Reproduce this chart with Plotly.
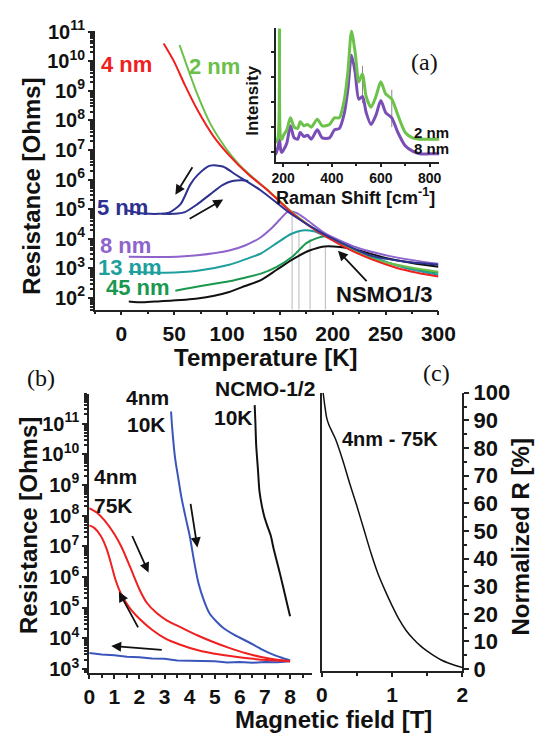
import plotly.graph_objects as go

W, H = 555, 741
def px(x): return x / W
def py(y): return 1 - y / H

# ---------------- Panel (a): R(T), log10 of resistance ----------------
red4_T = [40, 50, 60, 72, 87, 102, 120, 138, 150, 162, 177, 192, 215, 237, 260, 280, 300]
red4_logR = [10.6, 9.98, 9.2, 8.35, 7.47, 6.82, 6.18, 5.65, 5.25, 4.85, 4.45, 4.1, 3.65, 3.3, 3.02, 2.85, 2.72]

grn2_T = [55, 63, 72, 84, 99, 111, 125, 140, 162, 192, 237, 270, 300]
grn2_logR = [10.55, 9.74, 8.87, 7.9, 7.05, 6.52, 6.05, 5.6, 4.88, 4.12, 3.32, 3.05, 2.88]

blu5c_T = [4, 15, 27, 35, 45, 56, 65, 72, 84, 96, 108, 117, 132, 162, 192, 237, 270, 300]
blu5c_logR = [4.97, 4.88, 4.84, 4.84, 4.88, 5.17, 5.82, 6.15, 6.47, 6.44, 6.17, 5.97, 5.63, 4.8, 4.15, 3.42, 3.22, 3.12]
blu5w_T = [38, 50, 60, 72, 84, 96, 105, 114, 120]
blu5w_logR = [4.84, 4.84, 4.9, 5.17, 5.5, 5.82, 5.95, 5.98, 5.95]

pur8_T = [7, 25, 45, 72, 102, 117, 132, 142, 150, 157, 165, 175, 192, 222, 253, 280, 300]
pur8_logR = [3.39, 3.38, 3.38, 3.44, 3.6, 3.77, 4.05, 4.35, 4.65, 4.9, 4.88, 4.65, 4.2, 3.71, 3.42, 3.25, 3.15]

tea13_T = [7, 25, 42, 72, 102, 117, 132, 147, 160, 171, 182, 192, 215, 240, 270, 300]
tea13_logR = [2.88, 2.86, 2.85, 2.92, 3.12, 3.3, 3.5, 3.85, 4.15, 4.28, 4.25, 4.1, 3.72, 3.35, 3.0, 2.78]

grn45_T = [51, 75, 102, 117, 132, 147, 162, 175, 185, 193, 200, 215, 240, 270, 300]
grn45_logR = [2.24, 2.4, 2.56, 2.68, 2.82, 3.05, 3.4, 3.85, 4.02, 4.08, 4.0, 3.7, 3.32, 3.02, 2.85]

nsmo_T = [7, 20, 35, 72, 102, 117, 132, 147, 162, 178, 192, 207, 223, 250, 275, 300]
nsmo_logR = [1.88, 1.85, 1.88, 1.98, 2.2, 2.4, 2.6, 2.95, 3.3, 3.6, 3.74, 3.72, 3.62, 3.35, 3.18, 3.05]

# transition temperatures (gray guide lines) and peak levels
tc_T = [161.5, 168, 178.5, 193]
tc_logR = [4.9, 4.3, 4.0, 3.74]

# ---------------- Inset: Raman spectra (arbitrary units) ----------------
raman_shift = [150, 170, 179, 185, 190, 195, 202, 215, 230, 245, 260, 270, 285, 300, 315, 340, 360,
               390, 410, 430, 450, 465, 480, 495, 510, 525, 540, 560, 580, 600, 620, 645, 670, 700,
               730, 760, 800, 840]
raman_2nm = [0.13, 0.15, 0.18, 1.0, 0.18, 0.17, 0.2, 0.24, 0.33, 0.26, 0.25, 0.3, 0.27, 0.28, 0.26,
             0.32, 0.27, 0.28, 0.33, 0.33, 0.46, 0.67, 0.98, 0.82, 0.6, 0.66, 0.49, 0.41, 0.49, 0.6,
             0.51, 0.47, 0.35, 0.22, 0.18, 0.17, 0.17, 0.17]
raman_8nm = [0.02, 0.06, 0.11, 0.17, 0.09, 0.07, 0.09, 0.14, 0.27, 0.18, 0.17, 0.22, 0.19, 0.2, 0.17,
             0.24, 0.18, 0.18, 0.24, 0.25, 0.36, 0.54, 0.8, 0.67, 0.47, 0.49, 0.37, 0.28, 0.35, 0.46,
             0.37, 0.33, 0.22, 0.12, 0.08, 0.06, 0.06, 0.06]
raman_marks = [525, 645]
raman_marks_lo = [0.44, 0.26]
raman_marks_hi = [0.72, 0.54]

# ---------------- Panel (b): R(B) ----------------
b10_up_B = [3.26, 3.3, 3.42, 3.55, 3.67, 3.85, 4.0, 4.18, 4.35, 4.56, 4.8, 5.32, 5.8, 6.34, 6.85, 7.35, 7.7, 8.0]
b10_up_logR = [11.39, 10.9, 9.87, 9.2, 8.6, 7.9, 7.35, 6.5, 5.8, 5.25, 4.8, 4.35, 4.1, 3.88, 3.65, 3.46, 3.36, 3.28]
b10_dn_B = [8, 7.5, 7, 6.5, 6, 5.5, 5, 4.5, 4, 3.5, 3, 2.5, 2, 1.5, 1, 0.5, 0]
b10_dn_logR = [3.25, 3.22, 3.23, 3.2, 3.23, 3.21, 3.25, 3.26, 3.29, 3.28, 3.33, 3.34, 3.38, 3.4, 3.45, 3.47, 3.52]

r75_up_B = [0, 0.3, 0.6, 1.0, 1.3, 1.64, 2.02, 2.3, 2.65, 3.1, 3.67, 4.3, 4.94, 5.6, 6.21, 6.9, 7.48, 8.0]
r75_up_logR = [8.24, 8.1, 7.85, 7.4, 6.95, 6.3, 5.56, 5.15, 4.85, 4.58, 4.35, 4.1, 3.88, 3.68, 3.52, 3.38, 3.3, 3.25]
r75_dn_B = [0, 0.2, 0.45, 0.7, 0.88, 1.05, 1.26, 1.6, 2.02, 2.5, 3.04, 3.6, 4.3, 5.2, 6.21, 7.1, 8.0]
r75_dn_logR = [7.68, 7.6, 7.35, 6.9, 6.4, 5.9, 5.46, 5.0, 4.62, 4.28, 3.99, 3.8, 3.62, 3.47, 3.36, 3.29, 3.25]

ncmo_B = [6.59, 6.62, 6.65, 6.72, 6.78, 6.88, 6.97, 7.1, 7.23, 7.35, 7.6, 7.86, 8.0]
ncmo_logR = [11.6, 11.0, 10.3, 9.5, 8.8, 8.3, 7.98, 7.65, 7.35, 6.9, 6.1, 5.2, 4.72]

# ---------------- Panel (c): normalized R ----------------
c_B = [0.02, 0.04, 0.07, 0.1, 0.2, 0.3, 0.4, 0.5, 0.6, 0.7, 0.8, 0.9, 1.0, 1.1, 1.2, 1.3, 1.4, 1.5,
       1.6, 1.7, 1.8, 1.9, 2.0]
c_R = [100, 96, 91, 88.5, 83, 75.5, 67, 59, 50.5, 42, 34.5, 28.5, 23, 18, 14, 11, 8.5, 6.5, 4.8, 3.3,
       2.2, 1.3, 0.6]

FONT = "Liberation Sans"
AX = "#222222"

fig = go.Figure()

def line(xa, ya, x, y, color, width=2.0, shape="spline", log=False, smoothing=0.7):
    yy = [10 ** v for v in y] if log else y
    fig.add_trace(go.Scatter(x=x, y=yy, mode="lines", xaxis=xa, yaxis=ya,
                             line=dict(color=color, width=width, shape=shape, smoothing=smoothing),
                             showlegend=False, hoverinfo="skip"))

# (a) guide lines
for t, lr in zip(tc_T, tc_logR):
    line("x", "y", [t, t], [1.6, lr], "#b8b8b8", 1.0, "linear", log=True)
line("x", "y", nsmo_T, nsmo_logR, "#111111", 2.0, log=True)
line("x", "y", grn45_T, grn45_logR, "#1a9850", 2.0, log=True)
line("x", "y", tea13_T, tea13_logR, "#1f9e9e", 2.0, log=True)
line("x", "y", pur8_T, pur8_logR, "#8e63cc", 2.0, log=True)
line("x", "y", grn2_T, grn2_logR, "#6cc04a", 2.0, log=True)
line("x", "y", red4_T, red4_logR, "#f0201f", 2.0, log=True)
line("x", "y", blu5c_T, blu5c_logR, "#2d3190", 2.0, log=True)
line("x", "y", blu5w_T, blu5w_logR, "#2d3190", 2.0, log=True)

# inset
for m, lo, hi in zip(raman_marks, raman_marks_lo, raman_marks_hi):
    line("x2", "y2", [m, m], [lo, hi], "#888888", 1.0, "linear")
line("x2", "y2", raman_shift, raman_8nm, "#7a4fb5", 3.0)
line("x2", "y2", raman_shift, raman_2nm, "#6cc24a", 3.0)

# (b)
line("x3", "y3", b10_dn_B, b10_dn_logR, "#3b56bb", 2.0, "linear", log=True)
line("x3", "y3", b10_up_B, b10_up_logR, "#3b56bb", 2.0, log=True)
line("x3", "y3", r75_up_B, r75_up_logR, "#f02020", 2.0, log=True)
line("x3", "y3", r75_dn_B, r75_dn_logR, "#f02020", 2.0, log=True)
line("x3", "y3", ncmo_B, ncmo_logR, "#111111", 2.0, log=True)

# (c)
line("x4", "y4", c_B, c_R, "#111111", 1.5)
fig.add_trace(go.Scatter(x=[], y=[], xaxis="x4", yaxis="y5", showlegend=False))

common = dict(showline=True, linecolor=AX, linewidth=1.5, ticks="outside", tickcolor=AX,
              tickwidth=1.5, ticklen=5, showgrid=False, zeroline=False)
nolen = {k: v for k, v in common.items() if k != "ticklen"}

fig.update_layout(
    width=W, height=H, margin=dict(l=0, r=0, t=0, b=0),
    paper_bgcolor="white", plot_bgcolor="rgba(0,0,0,0)",
    font=dict(family=FONT, color="#111111", size=20, weight="bold"),
    xaxis=dict(domain=[px(93), px(452)], range=[-25, 300], anchor="y", tick0=0, dtick=50,
               tickfont=dict(size=21), ticklen=4,
               minor=dict(ticks="outside", ticklen=3, dtick=25, tickcolor=AX), **nolen),
    yaxis=dict(domain=[py(306), py(18)], type="log", range=[1.6, 11.01], anchor="x", dtick=1,
               exponentformat="power", tickfont=dict(size=16),
               minor=dict(ticks="outside", ticklen=3, dtick="D1", tickcolor=AX), **common),
    xaxis2=dict(domain=[px(282), px(453)], range=[170, 840], anchor="y2", dtick=200, tick0=0,
                tickfont=dict(size=14), ticklen=3,
                minor=dict(ticks="outside", ticklen=2, dtick=100, tickcolor=AX), **nolen),
    yaxis2=dict(domain=[py(153), py(15)], range=[0, 1], anchor="x2", tick0=0.072, dtick=0.188,
                showticklabels=False, ticklen=3, **nolen),
    xaxis3=dict(domain=[px(87), px(320)], range=[0, 8.88], anchor="y3", dtick=1,
                tickfont=dict(size=21), ticklen=4,
                minor=dict(ticks="outside", ticklen=3, dtick=0.5, tickcolor=AX), **nolen),
    yaxis3=dict(domain=[py(682), py(393)], type="log", range=[2.87, 11.97], anchor="x3", dtick=1,
                exponentformat="power", tickfont=dict(size=16),
                minor=dict(ticks="outside", ticklen=3, dtick="D1", tickcolor=AX), **common),
    xaxis4=dict(domain=[px(330), px(477)], range=[0, 2.0], anchor="y4", dtick=1,
                tickfont=dict(size=21), ticklen=4,
                minor=dict(ticks="outside", ticklen=3, dtick=0.5, tickcolor=AX), **nolen),
    yaxis4=dict(domain=[py(680), py(392)], range=[-0.7, 100], anchor="x4", side="right", dtick=10,
                tickfont=dict(size=22),
                minor=dict(ticks="outside", ticklen=3, dtick=5, tickcolor=AX), **common),
    yaxis5=dict(overlaying="y4", anchor="x4", side="left", range=[-0.7, 100], showline=True,
                linecolor=AX, linewidth=1.5, ticks="", showticklabels=False, showgrid=False,
                zeroline=False),
)

ann = []
def text(x, y, s, size=22, color="#111111", angle=0, family=FONT, weight="bold"):
    ann.append(dict(x=px(x), y=py(y), xref="paper", yref="paper", text=s, showarrow=False,
                    textangle=angle, xanchor="center", yanchor="middle",
                    font=dict(size=size, color=color, family=family, weight=weight)))

def arrow(tx, ty, hx, hy):
    ann.append(dict(x=px(hx), y=py(hy), xref="paper", yref="paper", ax=tx - hx, ay=ty - hy,
                    axref="pixel", ayref="pixel", showarrow=True, arrowhead=2, arrowsize=1.1,
                    arrowwidth=1.8, arrowcolor="#111111", text=""))

# axis titles
text(27, 178, "Resistance [Ohms]", 24, angle=-90)
text(272, 356, "Temperature [K]", 24)
text(23, 530, "Resistance [Ohms]", 24, angle=-90)
text(342, 730, "Magnetic field [T]", 24)
text(538, 541, "Normalized R [%]", 24, angle=-90)
text(258, 90, "Intensity", 17, angle=-90)
text(365, 189, "Raman Shift [cm<sup>-1</sup>]", 18)

# panel letters
text(437, 50, "(a)", 24, family="Liberation Serif", weight="normal")
text(37, 377, "(b)", 24, family="Liberation Serif", weight="normal")
text(450, 372, "(c)", 24, family="Liberation Serif", weight="normal")

# (a) labels
text(126, 52, "4 nm", 22, "#f0201f")
text(218, 54, "2 nm", 22, "#6cc04a")
text(122, 200, "5 nm", 22, "#2d3190")
text(125, 240, "8 nm", 22, "#8e63cc")
text(130, 262, "13 nm", 22, "#1f9e9e")
text(138, 283, "45 nm", 22, "#1a9850")
text(396, 290, "NSMO1/3", 22)
text(445, 123, "2 nm", 15)
text(445, 139, "8 nm", 15)

# (b), (c) labels
text(148, 397, "4nm", 21)
text(147, 425, "10K", 21)
text(271, 388, "NCMO-1/2", 21)
text(238, 418, "10K", 21)
text(114, 479, "4nm", 21)
text(112, 509, "75K", 21)
text(401, 440, "4nm - 75K", 20)

# arrows
arrow(195, 158, 177, 187)
arrow(192, 212, 227, 192)
arrow(377, 277, 347, 245)
arrow(193, 507, 200, 552)
arrow(132, 540, 149, 578)
arrow(138, 635, 118, 598)
arrow(162, 658, 110, 654)

fig.update_layout(annotations=ann)
fig.write_html("out.html")
